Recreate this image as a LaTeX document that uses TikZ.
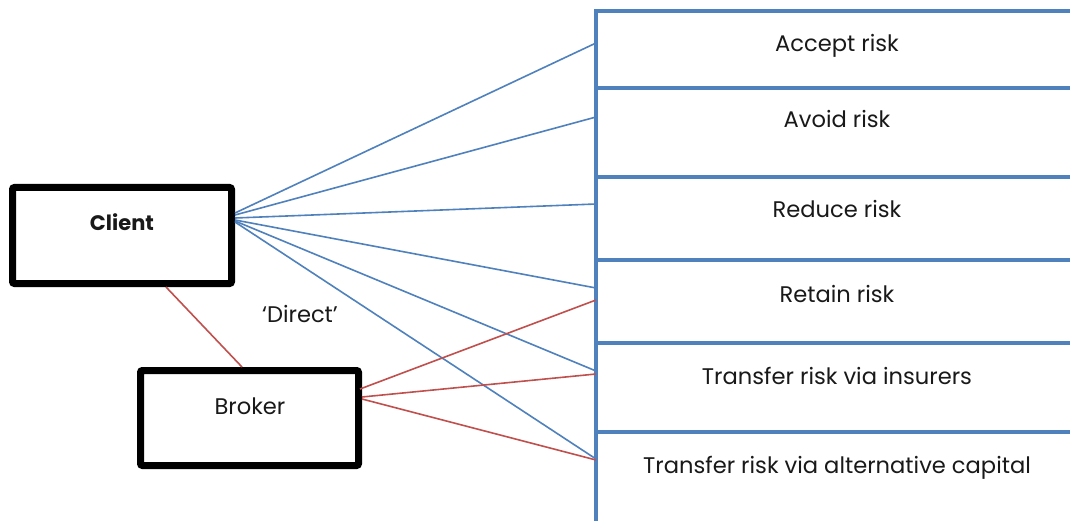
\documentclass[tikz,border=0pt]{standalone}
\usepackage{fontspec}
\setmainfont{Poppins}
\definecolor{obl}{HTML}{4F81BD}
\definecolor{ored}{HTML}{C0504D}
\begin{document}
\begin{tikzpicture}[x=1pt,y=-1pt,
  riskbox/.style={draw=obl,line width=4pt,rectangle,minimum width=520pt,outer sep=0pt,anchor=north west,inner sep=0pt},
  risktext/.style={anchor=base,font=\fontsize{22.6}{26}\selectfont,text=black!90},
  party/.style={draw=black,line width=7pt,rectangle,rounded corners=2pt,inner sep=0pt},
  bline/.style={draw=obl,line width=1.6pt},
  rline/.style={draw=ored,line width=1.6pt}]
\useasboundingbox (0,0) rectangle (1070,521);
\clip (0,0) rectangle (1070,521);
\fill[white] (0,0) rectangle (1070,521);
% right boxes
\node[riskbox,minimum height=77pt] (accept) at (596,11) {};
\node[riskbox,minimum height=89pt] (avoid) at (596,88) {};
\node[riskbox,minimum height=83pt] (reduce) at (596,177) {};
\node[riskbox,minimum height=83pt] (retain) at (596,260) {};
\node[riskbox,minimum height=89pt] (insur) at (596,343) {};
\node[riskbox,minimum height=110pt] (alt) at (596,432) {};
\node[risktext] (taccept) at (837,52) {Accept risk};
\node[risktext] (tavoid) at (837,128) {Avoid risk};
\node[risktext] (treduce) at (837,218) {Reduce risk};
\node[risktext] (tretain) at (837,302) {Retain risk};
\node[risktext] (tinsur) at (837,384) {Transfer risk via insurers};
\node[risktext] (talt) at (837,473) {Transfer risk via alternative capital};
% parties
\node[party,minimum width=219pt,minimum height=96pt] (client) at (122,235.5) {};
\node[party,minimum width=218pt,minimum height=95pt] (broker) at (249.5,418) {};
\node[risktext,font=\fontsize{21}{24}\selectfont\bfseries] (tclient) at (122,231) {Client};
\node[risktext] (tbroker) at (250,414) {Broker};
\node[risktext] (tdirect) at (300,322) {‘Direct’};
% endpoints on the left edge of the boxes
\coordinate (eA) at (596,43);
\coordinate (eB) at (596,117);
\coordinate (eC) at (596,204);
\coordinate (eD) at (596,288);
\coordinate (eE) at (596,371);
\coordinate (eF) at (596,459);
\coordinate (rD) at (596,300);
\coordinate (rE) at (596,374);
\coordinate (rF) at (596,460);
% blue connectors
\draw[bline] ([yshift=22.5pt]client.east) -- (eA);
\draw[bline] ([yshift=20.5pt]client.east) -- (eB);
\draw[bline] ([yshift=17.5pt]client.east) -- (eC);
\draw[bline] ([yshift=15.5pt]client.east) -- (eD);
\draw[bline] ([yshift=14.5pt]client.east) -- (eE);
\draw[bline] ([yshift=13.5pt]client.east) -- (eF);
% red connectors
\draw[rline] ([xshift=44pt]client.south) -- ([xshift=-7.5pt]broker.north);
\draw[rline] ([yshift=29pt,xshift=-2pt]broker.east) -- (rD);
\draw[rline] ([yshift=21pt]broker.east) -- (rE);
\draw[rline] ([yshift=19pt]broker.east) -- (rF);
\end{tikzpicture}
\end{document}
